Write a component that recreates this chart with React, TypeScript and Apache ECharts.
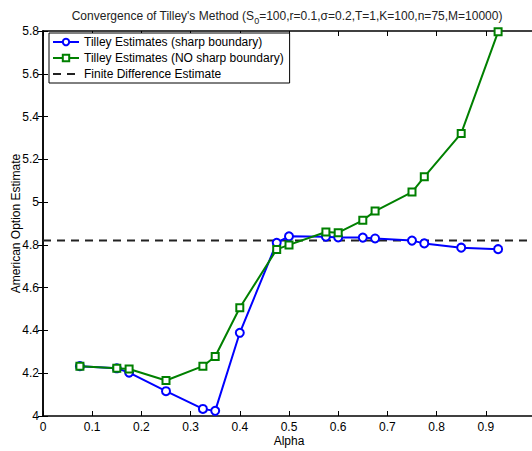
import React, { useEffect, useRef } from "react";
import * as echarts from "echarts";

// Sampling parameter alpha and the two Tilley estimates
const alpha = [0.075, 0.15, 0.175, 0.25, 0.325, 0.35, 0.4, 0.475, 0.5, 0.575, 0.6, 0.65, 0.675, 0.75, 0.775, 0.85, 0.925];
const sharpBoundary = [4.233, 4.223, 4.203, 4.116, 4.033, 4.024, 4.389, 4.81, 4.84, 4.838, 4.835, 4.834, 4.83, 4.82, 4.807, 4.787, 4.78];
const noSharpBoundary = [4.233, 4.223, 4.22, 4.166, 4.233, 4.278, 4.506, 4.779, 4.8, 4.86, 4.857, 4.915, 4.958, 5.047, 5.118, 5.321, 5.796];
const finiteDifference = 4.82;
const alphaRange = [0, 1];

const FONT = "Liberation Sans, Arial, Helvetica, sans-serif";

export default function App() {
  const ref = useRef<HTMLDivElement>(null);

  useEffect(() => {
    if (!ref.current) return;
    const chart = echarts.init(ref.current, undefined, { renderer: "svg" });
    const axisLine = { show: true, lineStyle: { color: "#000", width: 1.5 } };
    const tick = { show: true, inside: true, length: 5, lineStyle: { color: "#000", width: 1 } };
    chart.setOption({
      animation: false,
      backgroundColor: "#fff",
      textStyle: { fontFamily: FONT },
      title: {
        text: "{a|Convergence of Tilley's Method (S}{s|0}{a|=100,r=0.1,σ=0.2,T=1,K=100,n=75,M=10000)}",
        left: 282,
        top: 2,
        textAlign: "center",
        textStyle: {
          fontWeight: "normal",
          rich: {
            a: { fontSize: 12, lineHeight: 18, color: "#222", fontWeight: "normal", fontFamily: FONT },
            s: { fontSize: 9, lineHeight: 10, color: "#222", fontWeight: "normal", verticalAlign: "bottom", fontFamily: FONT },
          },
        },
      },
      grid: { left: 43, top: 31, width: 492, bottom: 35, containLabel: false, outerBoundsMode: "none" },
      legend: {
        orient: "vertical",
        left: 49,
        top: 33,
        padding: [3, 6, 3, 3],
        itemGap: 4,
        itemWidth: 26,
        itemHeight: 8,
        backgroundColor: "#fff",
        borderColor: "#000",
        borderWidth: 1,
        textStyle: { fontSize: 12, color: "#000", fontFamily: FONT },
        data: [
          "Tilley Estimates (sharp boundary)",
          "Tilley Estimates (NO sharp boundary)",
          { name: "Finite Difference Estimate", itemStyle: { opacity: 0 } },
        ],
      },
      xAxis: [
        {
          type: "value",
          min: 0,
          max: 1,
          interval: 0.1,
          name: "Alpha",
          nameLocation: "middle",
          nameGap: 19,
          nameMoveOverlap: false,
          nameTextStyle: { fontSize: 12, color: "#000", fontFamily: FONT, verticalAlign: "top" },
          axisLine,
          axisTick: tick,
          splitLine: { show: false },
          axisLabel: { fontSize: 12, color: "#000", margin: 5, showMaxLabel: false, fontFamily: FONT },
        },
        {
          type: "value",
          position: "top",
          min: 0,
          max: 1,
          interval: 0.1,
          axisLine,
          axisTick: tick,
          splitLine: { show: false },
          axisLabel: { show: false },
        },
      ],
      yAxis: [
        {
          type: "value",
          min: 4,
          max: 5.8,
          interval: 0.2,
          name: "American Option Estimate",
          nameLocation: "middle",
          nameGap: 27,
          nameMoveOverlap: false,
          nameTextStyle: { fontSize: 12, color: "#000", fontFamily: FONT, verticalAlign: "middle" },
          axisLine,
          axisTick: tick,
          splitLine: { show: false },
          axisLabel: { fontSize: 12, color: "#000", margin: 4, fontFamily: FONT },
        },
        {
          type: "value",
          position: "right",
          min: 4,
          max: 5.8,
          interval: 0.2,
          axisLine,
          axisTick: tick,
          splitLine: { show: false },
          axisLabel: { show: false },
        },
      ],
      series: [
        {
          name: "Tilley Estimates (sharp boundary)",
          type: "line",
          data: alpha.map((a, i) => [a, sharpBoundary[i]]),
          symbol: "emptyCircle",
          symbolSize: 8,
          color: "#0000ff",
          lineStyle: { color: "#0000ff", width: 2 },
          itemStyle: { color: "#0000ff", borderColor: "#0000ff", borderWidth: 1.5 },
          z: 3,
        },
        {
          name: "Tilley Estimates (NO sharp boundary)",
          type: "line",
          data: alpha.map((a, i) => [a, noSharpBoundary[i]]),
          symbol: "emptyRect",
          symbolSize: 7,
          color: "#008000",
          lineStyle: { color: "#008000", width: 2 },
          itemStyle: { color: "#008000", borderColor: "#008000", borderWidth: 1.5 },
          z: 4,
        },
        {
          name: "Finite Difference Estimate",
          type: "line",
          data: alphaRange.map((a) => [a, finiteDifference]),
          symbol: "none",
          color: "#222",
          lineStyle: { color: "#222", width: 2, type: [8, 6] },
          z: 2,
        },
      ],
    });
    return () => chart.dispose();
  }, []);

  return (
    <div style={{ position: "fixed", left: 0, top: 0, width: 532, height: 451, overflow: "hidden", background: "#fff" }}>
      <div ref={ref} style={{ width: 540, height: 451 }} />
    </div>
  );
}
